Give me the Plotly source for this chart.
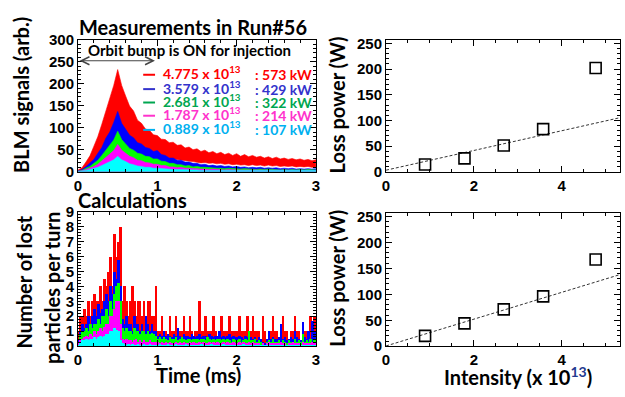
import plotly.graph_objects as go

W, H = 625, 397

# ---------------- Top-left: BLM signals (envelopes, sampled every 0.05 ms, 0..3 ms)
blm_step = 0.05
red_hi = [4, 9, 22, 36, 58, 80, 108, 138, 168, 196,
          232, 196, 172, 149, 138, 117, 110, 97, 94, 84,
          82, 74, 73, 66, 67, 60, 61, 54, 56, 50,
          52, 46, 49, 43, 46, 41, 44, 39, 42, 37,
          41, 35, 39, 34, 37, 33, 35, 31, 34, 30,
          33, 29, 31, 28, 30, 27, 29, 26, 28, 25, 27]
red_lo = [0, 2, 6, 12, 20, 30, 42, 55, 68, 82,
          100, 92, 82, 74, 66, 60, 54, 49, 45, 41,
          38, 35, 33, 31, 29, 27, 26, 25, 24, 23,
          22, 20, 21, 19, 20, 18, 19, 17, 18, 16,
          17, 15, 16, 14, 16, 14, 15, 13, 15, 13,
          14, 12, 13, 12, 13, 11, 12, 11, 12, 10, 11]
blue_hi = [2, 5, 12, 20, 28, 42, 55, 76, 90, 112,
           137, 110, 96, 83, 77, 66, 63, 55, 53, 46,
           48, 39, 37, 31, 31, 26, 26, 22, 22, 19,
           19, 16, 17, 14, 15, 13, 14, 12, 13, 11,
           12, 10, 11, 9, 10, 9, 10, 8, 9, 8,
           9, 7, 8, 7, 8, 6, 7, 6, 7, 6, 7]
green_hi = [1, 3, 8, 12, 19, 26, 37, 48, 61, 72,
            92, 73, 63, 53, 49, 42, 40, 35, 34, 29,
            29, 24, 23, 19, 19, 16, 16, 13, 14, 11,
            12, 10, 10, 9, 9, 8, 8, 7, 8, 7,
            7, 6, 7, 6, 6, 5, 6, 5, 6, 5,
            5, 4, 5, 4, 5, 4, 5, 4, 5, 4, 4]
magenta_hi = [1, 2, 5, 8, 12, 17, 24, 32, 40, 48,
              62, 49, 43, 35, 32, 26, 25, 21, 20, 17,
              17, 14, 14, 11, 11, 9, 10, 8, 8, 7,
              7, 6, 6, 5, 6, 5, 5, 4, 5, 4,
              4, 4, 4, 3, 4, 3, 4, 3, 4, 3,
              3, 3, 3, 3, 3, 3, 3, 3, 3, 3, 3]
cyan_hi = [0.5, 1, 3, 5, 7, 10, 14, 18, 22, 27,
           35, 27, 23, 18, 16, 13, 12, 10, 10, 8,
           8, 7, 6, 6, 5, 5, 5, 4, 4, 4,
           4, 3, 3, 3, 3, 3, 3, 3, 3, 3,
           3, 3, 3, 3, 3, 3, 3, 3, 3, 3,
           3, 3, 3, 3, 3, 3, 3, 3, 3, 3, 3]

# ---------------- Bottom-left: lost particles per turn (0.025 ms bins, 0..3 ms)
loss_bin = 0.025
red_loss = [1, 2, 2, 2.5, 2, 3, 2, 3, 3.5, 3, 3, 4, 3, 4.5, 4, 5, 6, 4, 7.5, 6,
            7, 8, 3, 4, 3, 2, 3, 4, 3, 2, 3, 3, 2, 3, 2, 3, 3, 2, 2, 4,
            1, 1, 2, 1, 1, 0, 2, 1, 1, 2, 1, 1, 1, 2, 1, 1, 2, 1, 0, 1,
            1, 3, 1, 1, 2, 1, 1, 1, 2, 1, 0, 1, 2, 1, 1, 1, 2, 1, 1, 1,
            1, 2, 1, 1, 1, 2, 1, 1, 2, 1, 1, 1, 0, 2, 1, 0, 0, 1, 2, 1,
            1, 0, 1, 2, 1, 1, 0, 1, 1, 2, 1, 1, 0, 1, 1, 1, 1, 2, 1, 2]
blue_loss = [0.5, 1, 1.5, 1.2, 1.5, 2, 1.5, 2, 2.5, 2, 2.8, 2.2, 2.5, 3, 3.5, 3, 4, 3.5, 5, 4.5,
             5.8, 4, 1.8, 1.5, 2, 1.5, 1.5, 1, 2, 1.5, 1.5, 1, 1.5, 1, 2, 1.5, 1, 1.5, 1, 1,
             0.7, 0.8, 0.7, 1, 0.7, 0.8, 0.7, 0.6, 0.8, 0.7, 1.2, 0.7, 0.6, 0.8, 0.7, 0.7, 0.6, 0.8, 0.7, 0.6,
             0.7, 0.8, 0.6, 0.7, 0.7, 0.6, 0.8, 0.7, 0.6, 0.7, 0.7, 1, 0.6, 0.7, 0.6, 0.7, 0.8, 0.6, 0.7, 0.6,
             0.6, 0.7, 0.6, 0.5, 0.7, 0.6, 0.7, 0.6, 0.5, 0.6, 0.4, 0.6, 0.5, 0.3, 0.2, 0.5, 1, 0.5, 0.6, 0.5,
             0.5, 0.6, 1.5, 0.5, 0.6, 0.4, 0.5, 0.6, 0.5, 1, 0.6, 0.5, 0.4, 1.6, 0.6, 0.5, 1, 0.5, 1.7, 1]
green_loss = [0.3, 0.8, 1, 1, 1.2, 1, 1.5, 1.2, 1.5, 1.5, 1.8, 1.5, 2, 2, 2.5, 2, 3, 2.5, 3.5, 4,
              4.2, 3, 1.2, 1, 1.2, 1, 1, 0.8, 1.2, 1, 1, 0.8, 1, 1, 0.8, 1, 0.8, 0.9, 0.8, 0.7,
              0.5, 0.6, 0.5, 0.6, 0.5, 0.4, 0.6, 0.5, 0.5, 0.6, 0.4, 0.5, 0.6, 0.5, 0.4, 0.5, 0.5, 0.4, 0.5, 0.5,
              0.5, 0.4, 0.5, 0.5, 0.4, 0.6, 0.5, 0.4, 0.5, 0.4, 0.5, 0.5, 0.4, 0.5, 0.4, 0.5, 0.4, 0.3, 0.5, 0.4,
              0.4, 0.5, 0.3, 0.4, 0.5, 0.4, 1, 0.4, 0.4, 0.5, 0.3, 0.4, 0.3, 0.2, 0.1, 0.3, 0.4, 0.3, 0.5, 0.3,
              0.3, 0.4, 0.3, 0.4, 0.3, 0.2, 0.4, 0.3, 0.3, 0.5, 0.3, 0.4, 0.3, 0.8, 0.3, 0.4, 0.3, 0.5, 0.3, 0.4]
magenta_loss = [0.2, 0.4, 0.5, 0.6, 0.7, 0.6, 0.8, 0.7, 1, 0.8, 1, 1.2, 1, 1.3, 1.5, 1.5, 2, 2, 2.5, 3,
                3, 1.5, 0.5, 0.4, 0.5, 0.4, 0.4, 0.3, 0.4, 0.5, 0.3, 0.4, 0.3, 0.4, 0.3, 0.3, 0.4, 0.3, 0.3, 0.3,
                0.25, 0.2, 0.3, 0.2, 0.25, 0.2, 0.3, 0.2, 0.2, 0.3, 0.2, 0.25, 0.2, 0.3, 0.2, 0.2, 0.3, 0.2, 0.25, 0.2,
                0.2, 0.3, 0.2, 0.25, 0.2, 0.2, 0.3, 0.2, 0.25, 0.2, 0.3, 0.2, 0.2, 0.25, 0.2, 0.3, 0.2, 0.2, 0.3, 0.2,
                0.2, 0.25, 0.2, 0.3, 0.2, 0.2, 0.25, 0.2, 0.3, 0.2, 0.2, 0.2, 0.1, 0.2, 0.1, 0.2, 0.3, 0.2, 0.2, 0.2,
                0.2, 0.2, 0.3, 0.2, 0.2, 0.1, 0.2, 0.2, 0.3, 0.2, 0.2, 0.2, 0.1, 0.3, 0.2, 0.2, 0.2, 0.2, 0.3, 0.2]
cyan_loss = [0.1, 0.3, 0.4, 0.4, 0.5, 0.4, 0.5, 0.5, 0.6, 0.5, 0.6, 0.7, 0.6, 0.7, 0.8, 0.8, 1, 1, 1.2, 1.1,
             1, 0.4, 0.2, 0.15, 0.1, 0.15, 0.1, 0.15, 0.1, 0.1, 0.15, 0.1, 0.1, 0.15, 0.1, 0.1, 0.15, 0.1, 0.1, 0.1,
             0.1, 0.15, 0.1, 0.1, 0.1, 0.15, 0.1, 0.1, 0.1, 0.15, 0.1, 0.1, 0.1, 0.1, 0.15, 0.1, 0.1, 0.1, 0.1, 0.1,
             0.1, 0.1, 0.15, 0.1, 0.1, 0.1, 0.1, 0.15, 0.1, 0.1, 0.1, 0.1, 0.1, 0.15, 0.1, 0.1, 0.1, 0.1, 0.1, 0.1,
             0.1, 0.1, 0.1, 0.15, 0.1, 0.1, 0.1, 0.1, 0.1, 0.1, 0.1, 0.1, 0.05, 0.1, 0.05, 0.1, 0.1, 0.1, 0.1, 0.1,
             0.1, 0.1, 0.1, 0.1, 0.1, 0.05, 0.1, 0.1, 0.1, 0.1, 0.1, 0.1, 0.05, 0.1, 0.1, 0.1, 0.1, 0.1, 0.1, 0.1]

# ---------------- Right panels
intensity = [0.889, 1.787, 2.681, 3.579, 4.775]
beam_power_kw = [107, 214, 322, 429, 573]
meas_loss_w = [14, 26, 51, 83, 202]
calc_loss_w = [20, 44, 71, 96, 167]
meas_fit = (3.0, 19.2)    # intercept (W), slope (W per 1e13)
calc_fit = (0.5, 25.8)

series_colors = ["#ff0000", "#0000ff", "#00ff00", "#ff00ff", "#00ffff"]
label_colors = ["#ff0000", "#3333cc", "#00a650", "#ff33cc", "#00b0f0"]

fig = go.Figure()

# Top-left traces
t_blm = [i * blm_step for i in range(len(red_hi))]
fig.add_trace(go.Scatter(x=t_blm + t_blm[::-1], y=red_hi + red_lo[::-1], fill="toself",
                         fillcolor=series_colors[0], line=dict(color=series_colors[0], width=0.6),
                         mode="lines", xaxis="x", yaxis="y", hoverinfo="skip"))
for ys, c in zip([blue_hi, green_hi, magenta_hi, cyan_hi], series_colors[1:]):
    fig.add_trace(go.Scatter(x=t_blm, y=ys, fill="tozeroy", fillcolor=c,
                             line=dict(color=c, width=0.6), mode="lines",
                             xaxis="x", yaxis="y", hoverinfo="skip"))

# Bottom-left histograms
for ys, c in zip([red_loss, blue_loss, green_loss, magenta_loss, cyan_loss], series_colors):
    xs = [(i + 0.5) * loss_bin for i in range(len(ys))]
    fig.add_trace(go.Bar(x=xs, y=ys, width=loss_bin, marker=dict(color=c, line=dict(width=0)),
                         xaxis="x2", yaxis="y2", hoverinfo="skip"))

# Right panels
xr = [0, 5.33]
for (pts, fit, xa, ya) in [(meas_loss_w, meas_fit, "x3", "y3"), (calc_loss_w, calc_fit, "x4", "y4")]:
    fig.add_trace(go.Scatter(x=xr, y=[fit[0] + fit[1] * v for v in xr], mode="lines",
                             line=dict(color="#333333", width=1, dash="3px,2px"),
                             xaxis=xa, yaxis=ya, hoverinfo="skip"))
    fig.add_trace(go.Scatter(x=intensity, y=pts, mode="markers",
                             marker=dict(symbol="square-open", size=11, color="black",
                                         line=dict(width=1.6, color="black")),
                             xaxis=xa, yaxis=ya))

def px(x):
    return x / W

def py(y):
    return 1 - y / H

tickfont = dict(family="Liberation Sans, Arial", size=15, color="black", weight="bold")

def ax(domain, rng, dtick, minor, anchor):
    return dict(domain=domain, range=rng, anchor=anchor, showline=True, linecolor="black",
                linewidth=1, mirror="ticks", ticks="inside", ticklen=6, tickwidth=1,
                tickcolor="black", showgrid=False, zeroline=False, tickfont=tickfont,
                dtick=dtick, tick0=0,
                minor=dict(dtick=minor, ticks="inside", ticklen=3, tickcolor="black",
                           tickwidth=1, showgrid=False))

left_dom = [px(75), px(316)]
right_dom = [px(387), px(624)]
top_dom = [py(170), py(32)]
bot_dom = [py(352), py(212)]

fig.update_layout(
    width=W, height=H, margin=dict(l=0, r=0, t=0, b=0), autosize=False,
    paper_bgcolor="white", plot_bgcolor="white", showlegend=False,
    barmode="overlay", bargap=0,
    xaxis=ax(left_dom, [0, 3], 1, 0.2, "y"),
    yaxis=ax(top_dom, [0, 300], 50, 10, "x"),
    xaxis2=ax(left_dom, [0, 3], 1, 0.2, "y2"),
    yaxis2=ax(bot_dom, [0, 9], 1, 0.2, "x2"),
    xaxis3=ax(right_dom, xr, 2, 0.5, "y3"),
    yaxis3=ax(top_dom, [0, 257.4], 50, 10, "x3"),
    xaxis4=ax(right_dom, xr, 2, 0.5, "y4"),
    yaxis4=ax([py(352.3), py(212.7)], [0, 257.4], 50, 10, "x4"),
)

ttl = "Lato, Calibri, sans-serif"
ann = []

def text(x, y, s, size, xanchor="center", color="black", angle=0, yanchor="middle"):
    ann.append(dict(x=px(x), y=py(y), xref="paper", yref="paper", text=s, showarrow=False,
                    xanchor=xanchor, yanchor=yanchor, textangle=angle,
                    font=dict(family=ttl, size=size, color=color, weight="bold")))

text(74, 19, "Measurements in Run#56", 20, xanchor="left")
text(73, 200, "Calculations", 20, xanchor="left")
text(17, 90, "BLM signals (arb.)", 20, angle=-90)
text(20, 285, "Number of lost", 20, angle=-90)
text(48, 291, "particles per turn", 20, angle=-90)
text(197, 382, "Time (ms)", 20)
text(337, 100, "Loss power (W)", 20, angle=-90)
text(337, 281, "Loss power (W)", 20, angle=-90)
text(521, 383, "Intensity (x 10<sup><span style='color:#1f3a8f'>13</span></sup>)", 20)
text(188, 43, "Orbit bump is ON for injection", 15)

legend_y = [66.7, 81.7, 95.7, 109.5, 124.3]
for i in range(len(intensity) - 1, -1, -1):
    k = len(intensity) - 1 - i
    c = label_colors[k]
    yy = legend_y[k]
    text(159, yy, "%.3f x 10<sup>13</sup>" % intensity[i], 14, xanchor="left", color=c)
    text(252, yy + 2, ": %d kW" % beam_power_kw[i], 14, xanchor="left", color=c)

# double-headed arrow for the orbit bump period
ann.append(dict(x=0.97, y=252, ax=0.0, ay=252, xref="x", yref="y", axref="x", ayref="y",
                text="", showarrow=True, arrowside="end+start", arrowhead=5, startarrowhead=5,
                arrowsize=1.6, startarrowsize=1.6, arrowwidth=1, arrowcolor="#444444"))
fig.update_layout(annotations=ann)

shapes = []
for k in range(5):
    yy = legend_y[k] + 2
    shapes.append(dict(type="line", xref="paper", yref="paper", x0=px(141), x1=px(153),
                       y0=py(yy), y1=py(yy), line=dict(color=label_colors[k], width=2)))
fig.update_layout(shapes=shapes)

fig.write_html("out.html")
